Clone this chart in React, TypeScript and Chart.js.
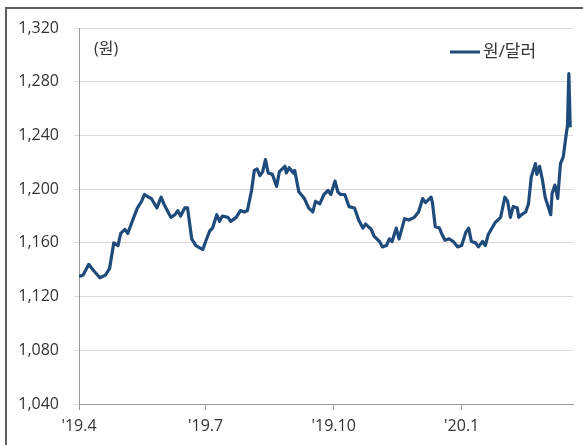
import React, { useEffect, useRef } from "react";
import { Chart, registerables } from "chart.js";

Chart.register(...registerables);

// Days elapsed since 2019-04-01 for each observation
const dayOffsets: number[] = [
  0, 3, 7, 10, 15, 19, 22, 25, 28, 30, 33, 35, 39, 42, 45, 47, 50, 52, 56, 59,
  61, 66, 69, 71, 73, 76, 78, 81, 84, 89, 91, 94, 96, 99, 101, 103, 107, 109, 113, 116,
  119, 121, 124, 126, 128, 130, 132, 134, 136, 139, 142, 144, 148, 149, 151, 154, 155, 158, 162, 165,
  168, 170, 173, 176, 179, 181, 184, 186, 188, 191, 194, 198, 201, 204, 206, 210, 212, 216, 218, 221,
  223, 225, 228, 230, 234, 237, 241, 244, 247, 249, 253, 254, 256, 259, 261, 263, 266, 269, 272, 275,
  278, 280, 282, 285, 287, 290, 292, 294, 299, 303, 306, 308, 310, 312, 315, 316, 318, 321, 323, 325,
  328, 329, 331, 333, 335, 339, 340, 342, 344, 346, 348, 350, 351, 352, 353,
];

// KRW per USD
const wonPerDollar: number[] = [
  1135, 1136, 1144, 1140, 1134, 1136, 1141, 1160, 1158, 1167, 1170, 1167, 1178, 1186, 1191, 1196, 1194, 1193, 1186, 1194,
  1189, 1179, 1181, 1184, 1180, 1186, 1186, 1163, 1158, 1155, 1161, 1169, 1171, 1181, 1176, 1180, 1179, 1176, 1179, 1184,
  1183, 1184, 1199, 1214, 1215, 1210, 1213, 1222, 1212, 1211, 1202, 1213, 1217, 1212, 1216, 1212, 1214, 1198, 1193, 1186,
  1183, 1191, 1189, 1196, 1199, 1196, 1206, 1198, 1196, 1196, 1187, 1186, 1177, 1171, 1174, 1170, 1165, 1161, 1157, 1158,
  1163, 1161, 1171, 1163, 1178, 1177, 1179, 1183, 1193, 1190, 1194, 1190, 1172, 1171, 1166, 1162, 1163, 1161, 1157, 1158,
  1168, 1171, 1161, 1160, 1157, 1161, 1158, 1166, 1175, 1179, 1194, 1191, 1179, 1187, 1186, 1179, 1181, 1183, 1189, 1209,
  1219, 1211, 1217, 1207, 1194, 1181, 1197, 1203, 1193, 1219, 1224, 1240, 1247, 1286, 1246,
];

const tickDays: number[] = [0, 91, 183, 275];
const tickLabels: string[] = ["'19.4", "'19.7", "'19.10", "'20.1"];

const seriesName = "원/달러";
const unitLabel = "(원)";

const FONT = "'Open Sans', 'Noto Sans CJK KR', sans-serif";
const LINE_COLOR = "#1f4a7c";

const overlayPlugin = {
  id: "overlayText",
  afterDraw(chart: any) {
    const ctx = chart.ctx;
    ctx.save();
    ctx.fillStyle = "#333";
    ctx.textBaseline = "middle";
    ctx.textAlign = "left";
    ctx.font = `16px ${FONT}`;
    ctx.fillText(unitLabel, 94, 49);
    // legend
    ctx.fillStyle = LINE_COLOR;
    ctx.fillRect(450, 50.5, 30, 3);
    ctx.fillStyle = "#333";
    ctx.font = `17px ${FONT}`;
    ctx.fillText(seriesName, 483, 52);
    ctx.restore();
  },
};

export default function App() {
  const canvasRef = useRef<HTMLCanvasElement | null>(null);

  useEffect(() => {
    const canvas = canvasRef.current;
    if (!canvas) return;
    const chart = new Chart(canvas, {
      type: "line",
      data: {
        datasets: [
          {
            label: seriesName,
            data: dayOffsets.map((d, i) => ({ x: d, y: wonPerDollar[i] })),
            borderColor: LINE_COLOR,
            backgroundColor: LINE_COLOR,
            borderWidth: 3.2,
            pointRadius: 0,
            tension: 0,
            borderJoinStyle: "round",
          },
        ],
      },
      options: {
        responsive: false,
        animation: false,
        layout: { padding: { left: 0, right: 10, top: 28, bottom: 0 } },
        plugins: {
          legend: { display: false },
          tooltip: { enabled: false },
        },
        scales: {
          x: {
            type: "linear",
            min: 0,
            max: 355,
            afterBuildTicks: (scale: any) => {
              scale.ticks = tickDays.map((v) => ({ value: v }));
            },
            afterFit: (scale: any) => {
              scale.height = 41;
            },
            ticks: {
              autoSkip: false,
              maxRotation: 0,
              padding: 7,
              color: "#333",
              font: { family: FONT, size: 16 },
              callback: (v: any) => {
                const idx = tickDays.indexOf(Number(v));
                return idx >= 0 ? tickLabels[idx] : "";
              },
            },
            grid: {
              drawOnChartArea: false,
              drawTicks: true,
              tickLength: 6,
              color: "#9a9a9a",
            },
            border: { display: true, color: "#9a9a9a", width: 1 },
          },
          y: {
            min: 1040,
            max: 1320,
            afterFit: (scale: any) => {
              scale.width = 79;
            },
            ticks: {
              stepSize: 40,
              padding: 15,
              color: "#333",
              font: { family: FONT, size: 16 },
              callback: (v: any) => Number(v).toLocaleString("en-US"),
            },
            grid: {
              color: "#d9d9d9",
              drawTicks: true,
              tickLength: 5,
            },
            border: { display: true, color: "#9a9a9a", width: 1 },
          },
        },
      },
      plugins: [overlayPlugin],
    } as any);
    return () => chart.destroy();
  }, []);

  return (
    <div
      style={{
        position: "fixed",
        left: 0,
        top: 0,
        width: 583,
        height: 445,
        background: "#fff",
        overflow: "hidden",
      }}
    >
      <div
        style={{
          position: "absolute",
          left: 5,
          top: 7,
          width: 700,
          height: 600,
          borderTop: "2px solid #5e5e5e",
          borderLeft: "2px solid #5e5e5e",
        }}
      />
      <canvas
        ref={canvasRef}
        width={583}
        height={445}
        style={{ position: "absolute", left: 0, top: 0, width: 583, height: 445 }}
      />
    </div>
  );
}
